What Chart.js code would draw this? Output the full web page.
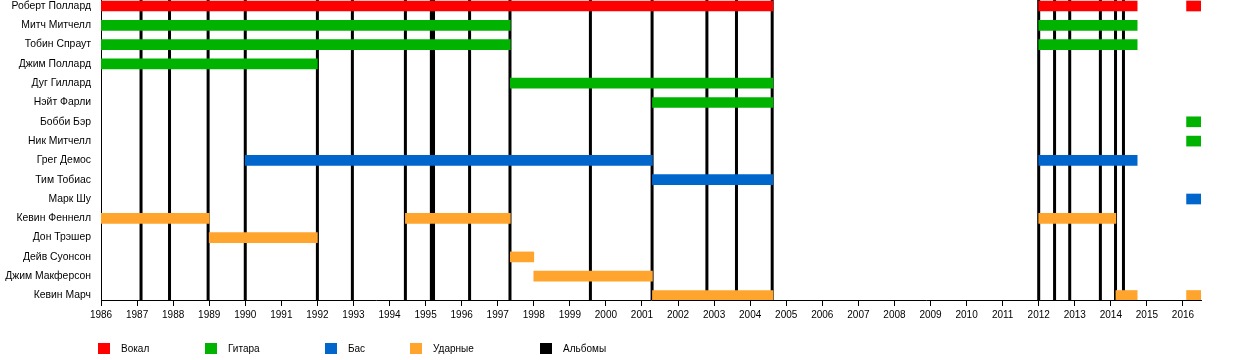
<!DOCTYPE html>
<html>
<head>
<meta charset="utf-8">
<script src="https://cdn.jsdelivr.net/npm/chart.js@4"></script>
<style>
  html, body { margin: 0; padding: 0; background: #fff; }
  canvas { display: block; }
</style>
</head>
<body>
<canvas id="timeline" width="1250" height="360"></canvas>
<script>
const members = [
    'Роберт Поллард', 'Митч Митчелл', 'Тобин Спраут', 'Джим Поллард',
    'Дуг Гиллард', 'Нэйт Фарли', 'Бобби Бэр', 'Ник Митчелл',
    'Грег Демос', 'Тим Тобиас', 'Марк Шу', 'Кевин Феннелл',
    'Дон Трэшер', 'Дейв Суонсон', 'Джим Макферсон', 'Кевин Марч'
];

// [member, from, to] in fractional years
const vocals = [
    ['Роберт Поллард', 1986, 2004.63],
    ['Роберт Поллард', 2012, 2014.73],
    ['Роберт Поллард', 2016.1, 2016.5]
];

const guitar = [
    ['Митч Митчелл', 1986, 1997.35],
    ['Митч Митчелл', 2012, 2014.73],
    ['Тобин Спраут', 1986, 1997.35],
    ['Тобин Спраут', 2012, 2014.73],
    ['Джим Поллард', 1986, 1992.0],
    ['Дуг Гиллард', 1997.35, 2004.63],
    ['Нэйт Фарли', 2001.29, 2004.63],
    ['Бобби Бэр', 2016.1, 2016.5],
    ['Ник Митчелл', 2016.1, 2016.5]
];

const bass = [
    ['Грег Демос', 1990.0, 2001.29],
    ['Грег Демос', 2012, 2014.73],
    ['Тим Тобиас', 2001.29, 2004.63],
    ['Марк Шу', 2016.1, 2016.5]
];

const drums = [
    ['Кевин Феннелл', 1986, 1989.0],
    ['Кевин Феннелл', 1994.44, 1997.35],
    ['Кевин Феннелл', 2012, 2014.14],
    ['Дон Трэшер', 1989.0, 1992.0],
    ['Дейв Суонсон', 1997.35, 1998.0],
    ['Джим Макферсон', 1998.0, 2001.29],
    ['Кевин Марч', 2001.29, 2004.63],
    ['Кевин Марч', 2014.14, 2014.73],
    ['Кевин Марч', 2016.1, 2016.5]
];

const albums = [
    1987.11, 1987.9, 1988.97, 1990.0, 1992.0, 1992.97, 1994.44, 1995.16, 1995.22,
    1996.22, 1997.34, 1999.57, 2001.28, 2002.8, 2003.62, 2004.61,
    2012.0, 2012.44, 2012.86, 2013.71, 2014.13, 2014.35
];

const yearMin = 1986;
const yearMax = 2016.5;

const roleLabels = ['Вокал', 'Гитара', 'Бас', 'Ударные', 'Альбомы'];
const roleColors = ['#ff0000', '#00b300', '#0066cc', '#ffa42c', '#000000'];

// row band: first row centre 6px below top, 19.3px per row, 300px tall area
const rowMin = -0.311;
const rowMax = 15.233;

const FAMILY = "'Liberation Sans', Arial, sans-serif";
const FONT = { family: FAMILY, size: 10 };
const NAME_FONT = { family: FAMILY, size: 10.4 };

function toBars(list) {
    return list.map(([name, from, to]) => ({ y: members.indexOf(name), x: [from, to] }));
}

function albumLines() {
    const pts = [];
    albums.forEach(a => {
        pts.push({ x: a, y: rowMin }, { x: a, y: rowMax }, { x: a, y: null });
    });
    return pts;
}

function barSet(label, color, list) {
    return {
        type: 'bar',
        label: label,
        data: toBars(list),
        indexAxis: 'y',
        backgroundColor: color,
        borderWidth: 0,
        barThickness: 10,
        grouped: false,
        order: 0
    };
}

const bottomLegend = {
    id: 'bottomLegend',
    afterDraw(chart) {
        const ctx = chart.ctx;
        const xs = [98, 205, 325, 410, 540];
        ctx.save();
        ctx.font = `${FONT.size}px ${FONT.family}`;
        ctx.textBaseline = 'middle';
        roleLabels.forEach((label, i) => {
            ctx.fillStyle = roleColors[i];
            ctx.fillRect(xs[i], 343, 12, 11);
            ctx.fillStyle = '#000';
            ctx.fillText(label, xs[i] + 23, 349);
        });
        ctx.restore();
    }
};

new Chart(document.getElementById('timeline'), {
    type: 'bar',
    data: {
        datasets: [
            barSet(roleLabels[0], roleColors[0], vocals),
            barSet(roleLabels[1], roleColors[1], guitar),
            barSet(roleLabels[2], roleColors[2], bass),
            barSet(roleLabels[3], roleColors[3], drums),
            {
                type: 'line',
                label: roleLabels[4],
                data: albumLines(),
                borderColor: roleColors[4],
                borderWidth: 3,
                pointRadius: 0,
                spanGaps: false,
                order: 1
            }
        ]
    },
    options: {
        responsive: false,
        animation: false,
        events: [],
        layout: { padding: { top: 0, left: 0, right: 49, bottom: 0 } },
        scales: {
            x: {
                type: 'linear',
                offset: false,
                min: yearMin,
                max: yearMax,
                grid: {
                    offset: false,
                    drawOnChartArea: false,
                    drawTicks: true,
                    tickLength: 6,
                    color: '#000'
                },
                border: { display: true, color: '#000', width: 1 },
                ticks: {
                    stepSize: 1,
                    includeBounds: false,
                    padding: 3,
                    color: '#000',
                    font: FONT,
                    maxRotation: 0,
                    autoSkip: false,
                    callback: v => String(v)
                },
                afterFit: s => { s.height = 60; }
            },
            y: {
                type: 'linear',
                offset: false,
                reverse: true,
                min: rowMin,
                max: rowMax,
                grid: { display: false, drawTicks: false, offset: false },
                border: { display: true, color: '#000', width: 1 },
                ticks: {
                    padding: 10,
                    color: '#000',
                    font: NAME_FONT,
                    autoSkip: false,
                    callback: v => members[v] ?? ''
                },
                afterBuildTicks: s => {
                    s.ticks = members.map((_, i) => ({ value: i }));
                },
                afterFit: s => {
                    s.width = 101;
                    s.paddingTop = 0;
                    s.paddingBottom = 0;
                }
            }
        },
        plugins: {
            legend: { display: false },
            tooltip: { enabled: false }
        }
    },
    plugins: [bottomLegend]
});
</script>
</body>
</html>
